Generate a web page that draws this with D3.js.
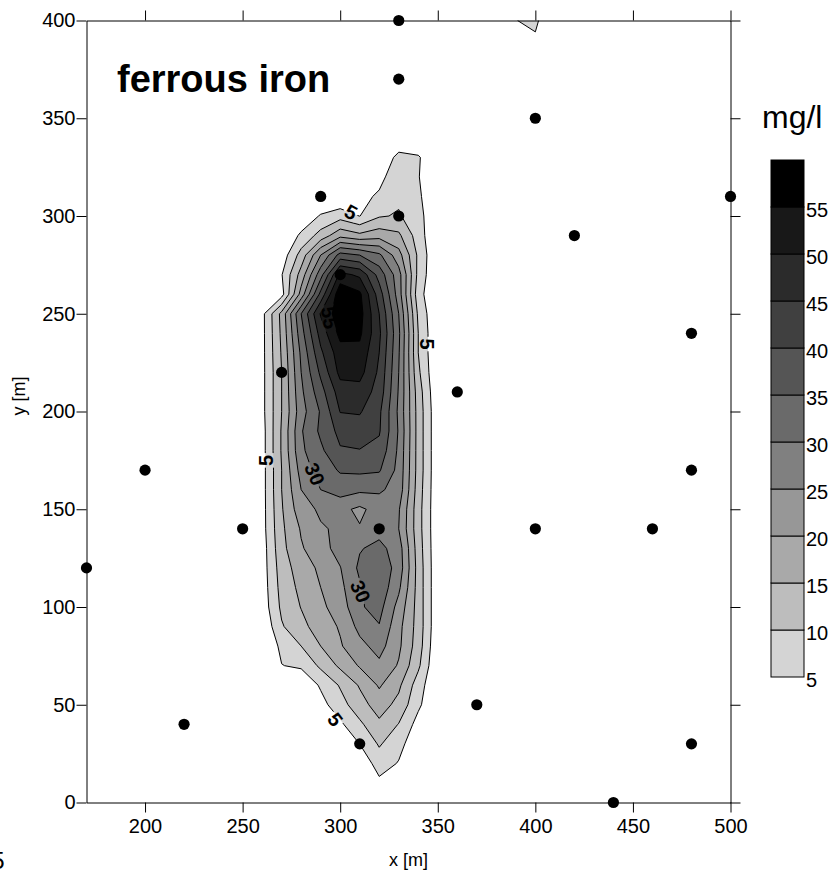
<!DOCTYPE html>
<html><head><meta charset="utf-8">
<script src="https://cdn.jsdelivr.net/npm/d3@7"></script>
<style>
body{margin:0;background:#fff;}
svg{display:block;}
text{font-family:"Liberation Sans",Arial,sans-serif;fill:#000;}
</style>
</head><body>
<svg id="c" width="831" height="880"></svg>
<script>
// ---------- data ----------
const gridX = [240,250,260,270,280,290,300,310,320,330,340,350,360,370,380,390,400,410];
const gridY = [0,10,20,30,40,50,60,70,80,90,100,110,120,130,140,150,160,170,180,190,200,
               210,220,230,240,250,260,270,280,290,300,310,320,330,340,350,360,370,380,390,400];
// ferrous iron [mg/l], one row per gridY value, one column per gridX value
const ironRows = [
 [0,0,0,0,0,0,0,0,0.6,0,0,0,0,0,0,0,0,0],
 [0,0,0,0,0,0,0,0.5,3.9,2,0,0,0,0,0,0,0,0],
 [0,0,0,0,0,0,0,1.4,7.2,4.7,1,0,0,0,0,0,0,0],
 [0,0,0,0,0,0,1.5,5.05,10.6,6.5,1.7,0,0,0,0,0,0,0],
 [0,0,0,0,0,0.5,4.1,9,14,9.8,3.1,0,0,0,0,0,0,0],
 [0,0,0,0,0,3.24,8,13,17.3,13.5,6,0,0,0,0,0,0,0],
 [0,0,0,0,0.8,5.65,10.5,15.5,20.6,16,7.5,0,0,0,0,0,0,0],
 [0,0,0,4.87,5.8,11,16,20.5,23.9,19.5,11,0,0,0,0,0,0,0],
 [0,0,0,6.2,10,15,19.5,23.5,26.9,21,12.5,0.5,0,0,0,0,0,0],
 [0,0,0.5,9.5,13.5,17.5,20.5,26.5,29.7,21.5,13,1,0,0,0,0,0,0],
 [0,0,2,11,15.2,19,22.2,29.4,31.8,23.2,13,1,0,0,0,0,0,0],
 [0,0,2.3,11.8,16.3,20,23.8,29.4,33.5,26,13,1,0,0,0,0,0,0],
 [0,0,2.5,12.5,17.5,21,24.8,31,33.5,28,13,1,0,0,0,0,0,0],
 [0,0,2.5,13.5,19.5,23,27,29.6,31.5,27.5,12.5,1,0,0,0,0,0,0],
 [0,0,3,14,20.5,24.5,25.8,25.35,28.1,25,12,1,0,0,0,0,0,0],
 [0,0,3,14.5,23,25.8,26.3,24,27,25.5,12,1,0,0,0,0,0,0],
 [0,0,3,15,25,30,32.3,31,30.8,28,12.5,1,0,0,0,0,0,0],
 [0,0,3,15,27,32.5,35.5,36,35.5,28.5,13,1,0,0,0,0,0,0],
 [0,0,3,15.5,29,34,39.5,39.8,38.5,29,13,1,0,0,0,0,0,0],
 [0,0,3,15.5,29.5,36,41.5,42.5,40.5,29.5,13,1,0,0,0,0,0,0],
 [0,0,3.5,15,28,35.5,45.2,45.5,41,29,13,1,0,0,0,0,0,0],
 [0,0,3.5,15,29,38,47.5,48,43,29.5,12.5,0.5,0,0,0,0,0,0],
 [0,0,3.5,15,30,41,51.5,51.8,44,30,11,0,0,0,0,0,0,0],
 [0,0,3.5,15.5,31,44,53,53.5,45,30.5,10,0,0,0,0,0,0,0],
 [0,0,3.5,16,33,47,56.5,56,46,31,10,0,0,0,0,0,0,0],
 [0,0,3.5,16.5,35,50.5,58.5,57,45,30,9,0,0,0,0,0,0,0],
 [0,0,0,3,22,41.5,59,56,42.5,27.5,7,0,0,0,0,0,0,0],
 [0,0,0,4.7,17,33,51.5,49,38,27,8.5,0,0,0,0,0,0,0],
 [0,0,0,2,12,25,37,35,31,22,9,0,0,0,0,0,0,0],
 [0,0,0,0,6,12,18.5,16.3,18,16,7.5,0,0,0,0,0,0,0],
 [0,0,0,0,1,5.5,8,4.9,9.5,10.5,7,0,0,0,0,0,0,0],
 [0,0,0,0,0,0,0,3,6,9,6,0,0,0,0,0,0,0],
 [0,0,0,0,0,0,0,0,3,9.3,5.3,0,0,0,0,0,0,0],
 [0,0,0,0,0,0,0,0,0,6.8,5.6,0,0,0,0,0,0,0],
 [0,0,0,0,0,0,0,0,0,0,0,0,0,0,0,0,0,0],
 [0,0,0,0,0,0,0,0,0,0,0,0,0,0,0,0,0,0],
 [0,0,0,0,0,0,0,0,0,0,0,0,0,0,0,0,0,0],
 [0,0,0,0,0,0,0,0,0,0,0,0,0,0,0,0,0,0],
 [0,0,0,0,0,0,0,0,0,0,0,0,0,0,0,0,0,0],
 [0,0,0,0,0,0,0,0,0,0,0,0,0,0,0,0,4.28,0],
 [0,0,0,0,0,0,0,0,0,0,0,0,0,0,0,4.9,6,0]
];
const levels = [5,10,15,20,25,30,35,40,45,50,55];
const levelColors = ["#d4d4d4","#bdbdbd","#a9a9a9","#979797","#808080","#6a6a6a",
                     "#555555","#404040","#2b2b2b","#181818","#000000"];
const legendTop = 60;

const wellX = [330,330,400,500,290,330,420,300,480,270,360,200,480,250,320,400,460,170,370,220,310,480,440];
const wellY = [400,370,350,310,310,300,290,270,240,220,210,170,170,140,140,140,140,120,50,40,30,30,0];

const xTicks = [200,250,300,350,400,450,500];
const yTicks = [0,50,100,150,200,250,300,350,400];

const labelText = ["5","5","5","30","30","5","55"];
const labelX = [305.5,344.5,262,287,310.5,297.5,294.6];
const labelY = [302,234.5,175,168,108,42.5,248];
const labelAngle = [28,90,-90,66,66,53,80];

// ---------- drawing ----------
const svg = d3.select("#c");
const x = d3.scaleLinear().domain([170,500]).range([86.5,730.5]);
const y = d3.scaleLinear().domain([0,400]).range([802.5,20.5]);

const defs = svg.append("defs");
defs.append("clipPath").attr("id","plotclip").append("rect")
  .attr("x",x(170)).attr("y",y(400)).attr("width",x(500)-x(170)).attr("height",y(0)-y(400));

// contour computation
const nx = gridX.length, ny = gridY.length;
const values = [];
for (let j=0;j<ny;j++) for (let i=0;i<nx;i++) values.push(ironRows[j][i]);
const dgx = gridX[1]-gridX[0], dgy = gridY[1]-gridY[0];
const bands = d3.contours().size([nx,ny]).thresholds(levels)(values);
const proj = d3.geoTransform({point(px,py){
  this.stream.point(x(gridX[0]+(px-0.5)*dgx), y(gridY[0]+(py-0.5)*dgy));
}});
const path = d3.geoPath(proj);

// mask for label gaps in contour lines
const lblFont = 20;
const mask = defs.append("mask").attr("id","lblmask").attr("maskUnits","userSpaceOnUse")
  .attr("x",0).attr("y",0).attr("width",831).attr("height",880);
mask.append("rect").attr("x",0).attr("y",0).attr("width",831).attr("height",880).attr("fill","#fff");
labelText.forEach((t,k)=>{
  const w = t.length*lblFont*0.58+3, h = lblFont*0.8;
  mask.append("rect")
    .attr("x",-w/2).attr("y",-h/2).attr("width",w).attr("height",h)
    .attr("fill","#000")
    .attr("transform",`translate(${x(labelX[k])},${y(labelY[k])}) rotate(${labelAngle[k]})`);
});

const plot = svg.append("g").attr("clip-path","url(#plotclip)");
plot.append("g").selectAll("path").data(bands).join("path")
  .attr("d",path).attr("fill",(d,k)=>levelColors[k]).attr("stroke","none");
plot.append("g").attr("mask","url(#lblmask)").selectAll("path").data(bands).join("path")
  .attr("d",path).attr("fill","none").attr("stroke","#000").attr("stroke-width",1)
  .attr("stroke-linejoin","round");

// contour labels
svg.append("g").selectAll("text").data(labelText).join("text")
  .attr("transform",(d,k)=>`translate(${x(labelX[k])},${y(labelY[k])}) rotate(${labelAngle[k]})`)
  .attr("text-anchor","middle").attr("dy","0.36em")
  .style("font-size",lblFont+"px").style("font-weight","bold")
  .text(d=>d);

// axes
function styleAxis(g){
  g.select(".domain").attr("stroke","#000").attr("stroke-width",1);
  g.selectAll(".tick line").attr("stroke","#000").attr("stroke-width",1);
  g.selectAll(".tick text").style("font-size","20px").attr("fill","#000")
    .style("font-family",'"Liberation Sans",Arial,sans-serif');
}
svg.append("g").attr("transform",`translate(0,${y(0)})`)
  .call(d3.axisBottom(x).tickValues(xTicks).tickSize(10).tickPadding(6).tickSizeOuter(0))
  .call(styleAxis);
svg.append("g").attr("transform",`translate(0,${y(400)})`)
  .call(d3.axisTop(x).tickValues(xTicks).tickSize(10).tickFormat("").tickSizeOuter(0))
  .call(styleAxis);
svg.append("g").attr("transform",`translate(${x(170)},0)`)
  .call(d3.axisLeft(y).tickValues(yTicks).tickSize(10).tickPadding(1).tickSizeOuter(0))
  .call(styleAxis);
svg.append("g").attr("transform",`translate(${x(500)},0)`)
  .call(d3.axisRight(y).tickValues(yTicks).tickSize(10).tickFormat("").tickSizeOuter(0))
  .call(styleAxis);

// wells
svg.append("g").selectAll("circle").data(wellX).join("circle")
  .attr("cx",(d)=>x(d)).attr("cy",(d,k)=>y(wellY[k])).attr("r",5.6).attr("fill","#000");

// titles
svg.append("text").attr("x",117).attr("y",92).style("font-size","38px").style("font-weight","bold")
  .text("ferrous iron");
svg.append("text").attr("x",(x(170)+x(500))/2).attr("y",866).attr("text-anchor","middle")
  .style("font-size","18px").text("x [m]");
svg.append("text").attr("transform",`translate(25,396) rotate(-90)`).attr("text-anchor","middle")
  .style("font-size","18px").text("y [m]");
svg.append("text").attr("x",4.5).attr("y",869).attr("text-anchor","end")
  .style("font-size","24px").text("5");

// legend
const lg = svg.append("g");
lg.append("text").attr("x",762).attr("y",128).style("font-size","32px").text("mg/l");
const ly = d3.scaleLinear().domain([5,legendTop]).range([677,160]);
const legendUpper = levels.map((v,k)=> k<levels.length-1 ? levels[k+1] : legendTop);
lg.selectAll("rect").data(levels).join("rect")
  .attr("x",771).attr("width",33)
  .attr("y",(d,k)=>ly(legendUpper[k])).attr("height",(d,k)=>ly(d)-ly(legendUpper[k]))
  .attr("fill",(d,k)=>levelColors[k]).attr("stroke","#000").attr("stroke-width",1);
lg.selectAll("text.lv").data(levels).join("text").attr("class","lv")
  .attr("x",806).attr("y",d=>ly(d)+3).attr("dy","0.36em")
  .style("font-size","20px").text(d=>d);
</script>
</body></html>
